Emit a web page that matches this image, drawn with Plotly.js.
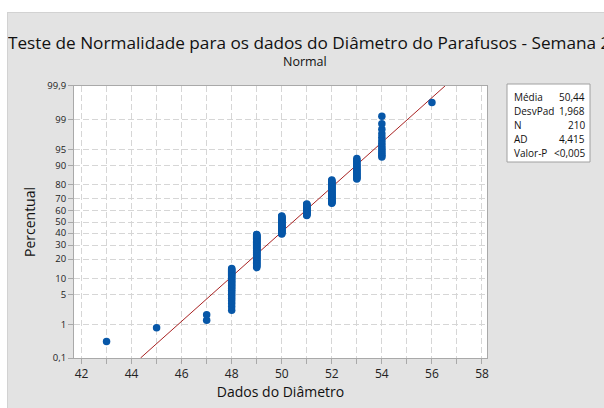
<!DOCTYPE html>
<html>
<head>
<meta charset="utf-8">
<script src="https://cdn.plot.ly/plotly-3.0.1.min.js"></script>
<style>
  html, body { margin: 0; padding: 0; background: #ffffff; width: 604px; height: 408px; overflow: hidden; }
  #chart { position: absolute; left: 7px; top: 12px; width: 597px; height: 396px; border-top: 1px solid #d2d2d2; border-left: 1px solid #d2d2d2; box-sizing: border-box; overflow: hidden; }
</style>
</head>
<body>
<div id="chart"></div>
<script>
// ---- data ----
const diameterValues = [43, 45, 47, 48, 49, 50, 51, 52, 53, 54, 56];
const diameterCounts = [1, 1, 2, 27, 51, 35, 22, 36, 20, 14, 1];
const statLabels = ['Média', 'DesvPad', 'N', 'AD', 'Valor-P'];
const statValues = ['50,44', '1,968', '210', '4,415', '<0,005'];
const fitMean = 50.44;
const fitSd = 1.968;
const yTickPercents = [0.1, 1, 5, 10, 20, 30, 40, 50, 60, 70, 80, 90, 95, 99, 99.9];
const yTickLabels = ['0,1', '1', '5', '10', '20', '30', '40', '50', '60', '70', '80', '90', '95', '99', '99,9'];
const xTickValues = [42, 44, 46, 48, 50, 52, 54, 56, 58];

// inverse standard normal CDF (Acklam)
function normInv(p) {
  const a = [-3.969683028665376e+01, 2.209460984245205e+02, -2.759285104469687e+02, 1.383577518672690e+02, -3.066479806614716e+01, 2.506628277459239e+00];
  const b = [-5.447609879822406e+01, 1.615858368580409e+02, -1.556989798598866e+02, 6.680131188771972e+01, -1.328068155288572e+01];
  const c = [-7.784894002430293e-03, -3.223964580411365e-01, -2.400758277161838e+00, -2.549732539343734e+00, 4.374664141464968e+00, 2.938163982698783e+00];
  const d = [7.784695709041462e-03, 3.224671290700398e-01, 2.445134137142996e+00, 3.754408661907416e+00];
  const pl = 0.02425, ph = 1 - pl;
  let q, r;
  if (p < pl) {
    q = Math.sqrt(-2 * Math.log(p));
    return (((((c[0]*q+c[1])*q+c[2])*q+c[3])*q+c[4])*q+c[5]) / ((((d[0]*q+d[1])*q+d[2])*q+d[3])*q+1);
  } else if (p <= ph) {
    q = p - 0.5; r = q * q;
    return (((((a[0]*r+a[1])*r+a[2])*r+a[3])*r+a[4])*r+a[5])*q / (((((b[0]*r+b[1])*r+b[2])*r+b[3])*r+b[4])*r+1);
  } else {
    q = Math.sqrt(-2 * Math.log(1 - p));
    return -(((((c[0]*q+c[1])*q+c[2])*q+c[3])*q+c[4])*q+c[5]) / ((((d[0]*q+d[1])*q+d[2])*q+d[3])*q+1);
  }
}

// sorted sample and median-rank plotting positions
const sample = [];
diameterValues.forEach((v, k) => { for (let j = 0; j < diameterCounts[k]; j++) sample.push(v); });
const n = sample.length;
const ptX = sample;
const ptY = sample.map((v, i) => normInv((i + 1 - 0.3) / (n + 0.4)));

// fitted normal line
const zEnds = [normInv(0.001), normInv(0.999)];
const lineX = zEnds.map(z => fitMean + z * fitSd);
const lineY = zEnds;

// pixel helpers (absolute page pixels -> paper coords)
const ML = 66, MT = 73, PW = 413, PH = 272;
const PX = a => (a - 7 - ML) / PW;
const PY = a => 1 - (a - 12 - MT) / PH;

const FONT = 'Open Sans, Noto Sans, DejaVu Sans, sans-serif';
const gridCol = '#d6d6d6';

const traces = [
  { x: lineX, y: lineY, mode: 'lines', line: { color: '#a82222', width: 1 }, hoverinfo: 'skip', showlegend: false },
  { x: ptX, y: ptY, mode: 'markers', marker: { color: '#0757a8', size: 7.5 }, showlegend: false }
];

const rowsY = [95.7, 109.7, 123.7, 137.7, 151.7];
const annotations = [
  { text: 'Normal', xref: 'paper', yref: 'paper', x: PX(304), y: PY(60), xanchor: 'center', yanchor: 'middle', showarrow: false, font: { family: FONT, size: 12.5, color: '#111' } }
];
statLabels.forEach((t, i) => {
  annotations.push({ text: t, xref: 'paper', yref: 'paper', x: PX(511), y: PY(rowsY[i]), xanchor: 'left', yanchor: 'middle', showarrow: false, font: { family: FONT, size: 10, color: '#111' } });
  annotations.push({ text: statValues[i], xref: 'paper', yref: 'paper', x: PX(586), y: PY(rowsY[i]), xanchor: 'right', yanchor: 'middle', showarrow: false, font: { family: FONT, size: 10, color: '#111' } });
});

const layout = {
  width: 597, height: 396,
  margin: { l: ML, r: 597 - ML - PW, t: MT, b: 396 - MT - PH, pad: 0 },
  paper_bgcolor: '#e3e3e3',
  plot_bgcolor: '#ffffff',
  showlegend: false,
  title: {
    text: 'Teste de Normalidade para os dados do Diâmetro do Parafusos - Semana 2',
    font: { family: FONT, size: 17.2, color: '#111' },
    x: 0, xref: 'container', xanchor: 'left',
    y: 1 - 29.5 / 396, yref: 'container', yanchor: 'middle',
    pad: { l: 0, r: 0, t: 0, b: 0 }
  },
  xaxis: {
    range: [41.7, 58.2], tickvals: xTickValues, ticktext: xTickValues.map(String),
    showgrid: true, gridcolor: gridCol, griddash: '6px,3px', gridwidth: 1,
    zeroline: false, showline: true, linecolor: '#a9a9a9', linewidth: 1, mirror: true,
    ticks: 'outside', ticklen: 5, tickcolor: '#a9a9a9',
    tickfont: { family: FONT, size: 12, color: '#222' },
    minor: { dtick: 1, tick0: 41, showgrid: true, gridcolor: gridCol, griddash: '6px,3px', ticks: 'outside', ticklen: 5, tickcolor: '#a9a9a9' },
    title: { text: 'Dados do Diâmetro', font: { family: FONT, size: 14, color: '#111' }, standoff: 4 },
    automargin: false, fixedrange: true
  },
  yaxis: {
    range: [-3.09, 3.09],
    tickvals: yTickPercents.map(p => normInv(p / 100)), ticktext: yTickLabels,
    showgrid: true, gridcolor: gridCol, griddash: '6px,3px', gridwidth: 1,
    zeroline: false, showline: true, linecolor: '#a9a9a9', linewidth: 1, mirror: true,
    ticks: 'outside', ticklen: 5, tickcolor: '#a9a9a9',
    tickfont: { family: FONT, size: 9.5, color: '#222' },
    title: { text: 'Percentual', font: { family: FONT, size: 14, color: '#111' }, standoff: 8 },
    automargin: false, fixedrange: true
  },
  shapes: [
    { type: 'rect', xref: 'paper', yref: 'paper', x0: PX(506), x1: PX(589), y0: PY(161), y1: PY(83), line: { color: '#a0a0a0', width: 1 }, fillcolor: '#ffffff', layer: 'below' }
  ],
  annotations: annotations
};

Plotly.newPlot('chart', traces, layout, { displayModeBar: false, staticPlot: true });
</script>
</body>
</html>
